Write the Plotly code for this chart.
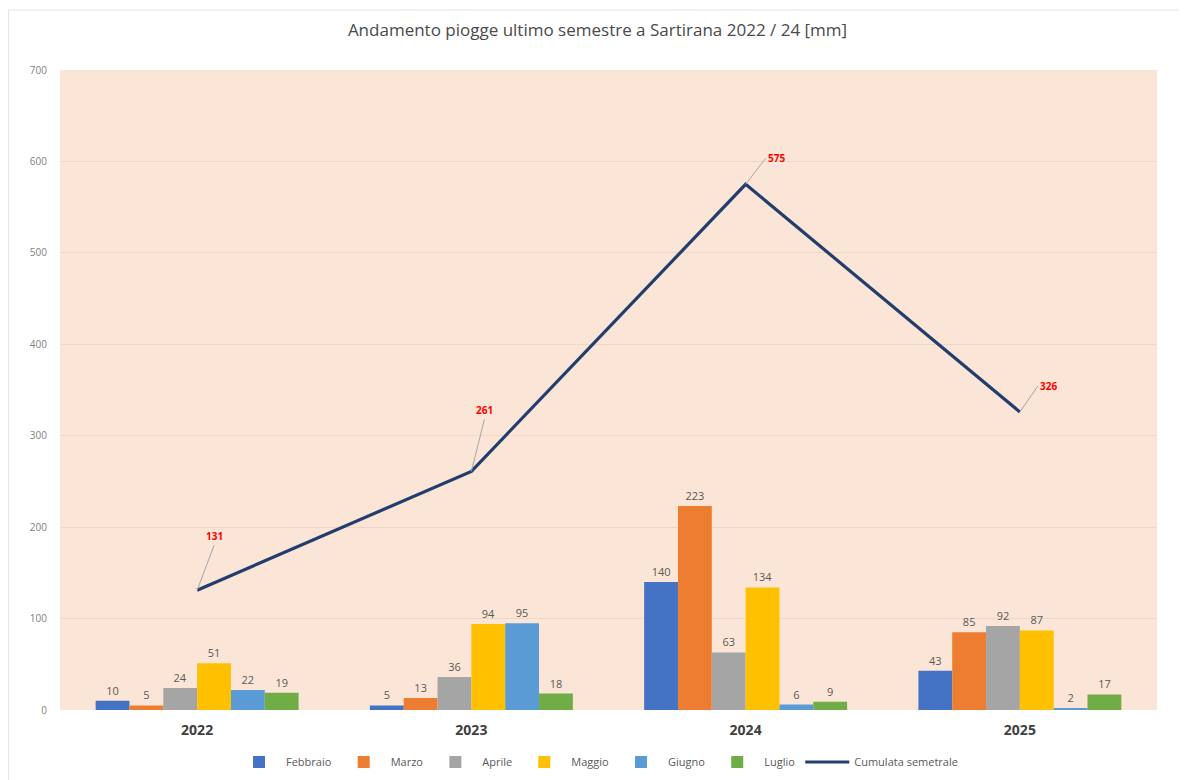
import plotly.graph_objects as go

years = ["2022", "2023", "2024", "2025"]
febbraio = [10, 5, 140, 43]
marzo = [5, 13, 223, 85]
aprile = [24, 36, 63, 92]
maggio = [51, 94, 134, 87]
giugno = [22, 95, 6, 2]
luglio = [19, 18, 9, 17]
cumulata = [131, 261, 575, 326]
y_ticks = [0, 100, 200, 300, 400, 500, 600, 700]

series = [
    ("Febbraio", febbraio, "#4472C4"),
    ("Marzo", marzo, "#ED7D31"),
    ("Aprile", aprile, "#A5A5A5"),
    ("Maggio", maggio, "#FFC000"),
    ("Giugno", giugno, "#5B9BD5"),
    ("Luglio", luglio, "#70AD47"),
]

FONT = "Open Sans, Liberation Sans, sans-serif"

fig = go.Figure()
for name, vals, col in series:
    fig.add_trace(go.Bar(
        x=years, y=vals, name=name, marker=dict(color=col, line=dict(width=0)),
        text=[str(v) for v in vals], textposition="outside",
        textfont=dict(size=11, color="#595959", family=FONT),
        cliponaxis=False,
    ))

fig.add_trace(go.Scatter(
    x=years, y=cumulata, name="Cumulata semetrale", mode="lines",
    line=dict(color="#233E6E", width=3.2),
))

offsets = [(17, -45), (13, -52), (20, -26), (18, -26)]
for i, (v, (ax, ay)) in enumerate(zip(cumulata, offsets)):
    side = i >= 2
    fig.add_annotation(
        x=i, y=v, text="<b>%d</b>" % v, showarrow=True,
        ax=ax, ay=ay, arrowhead=0, arrowwidth=1, arrowcolor="#A6A6A6",
        font=dict(size=10, color="#FF0000", family=FONT),
        xanchor="left" if side else "center",
        yanchor="middle" if side else "bottom",
        standoff=0,
    )

H = 772
fig.update_layout(
    width=1179, height=H,
    margin=dict(l=52, r=30, t=62, b=70),
    paper_bgcolor="white", plot_bgcolor="#FBE5D6",
    barmode="group", bargap=0.26, bargroupgap=0,
    title=dict(text="Andamento piogge ultimo semestre a Sartirana 2022 / 24 [mm]",
               x=0.5, xanchor="center", y=1 - 22 / H, yanchor="middle",
               font=dict(size=17, color="#4A4A4A", family=FONT)),
    font=dict(family=FONT),
    legend=dict(orientation="h", x=0.5, xanchor="center", xref="container",
                y=1 - 754 / H, yanchor="middle", yref="container",
                font=dict(size=11, color="#595959", family=FONT),
                itemwidth=44, traceorder="normal"),
    xaxis=dict(type="category", range=[-0.5, 3.5], showgrid=False, showline=False, ticks="",
               automargin=False,
               tickfont=dict(size=14, color="#404040", family=FONT),
               tickprefix="<b>", ticksuffix="</b>", ticklabelstandoff=10),
    yaxis=dict(range=[0, 700], tickvals=y_ticks, showgrid=True, gridcolor="#EFD7C8",
               gridwidth=1, zeroline=False, showline=False, ticks="", automargin=False,
               tickfont=dict(size=10, color="#7F7F7F", family=FONT), ticklabelstandoff=12),
    shapes=[
        dict(type="line", xref="paper", yref="paper", x0=-0.047, x1=1.025, y0=1.0 + 60/640, y1=1.0 + 60/640,
             line=dict(color="#E3E3E3", width=1)),
        dict(type="line", xref="paper", yref="paper", x0=-0.047, x1=-0.047, y0=1.0 + 60/640, y1=-0.11,
             line=dict(color="#E3E3E3", width=1)),
    ],
)

fig.write_html("out.html")
